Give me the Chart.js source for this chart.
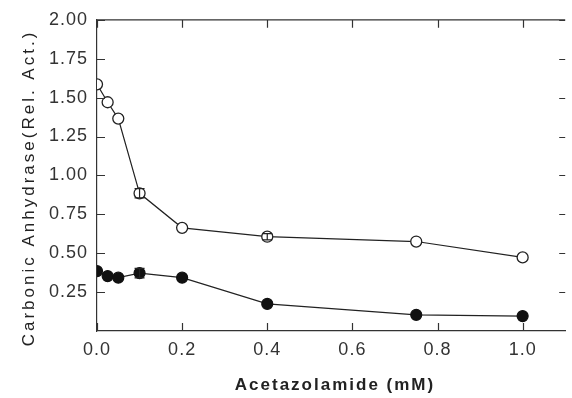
<!DOCTYPE html>
<html>
<head>
<meta charset="utf-8">
<script src="https://cdn.jsdelivr.net/npm/chart.js@4/dist/chart.umd.min.js"></script>
<style>
  body { margin: 0; background: #fff; }
  #wrap { width: 572px; height: 398px; }
</style>
</head>
<body>
<div id="wrap"><canvas id="myChart" width="572" height="398"></canvas></div>
<script>
// dados
var doses = [0, 0.025, 0.05, 0.1, 0.2, 0.4, 0.75, 1.0];
var openVals = [1.585, 1.47, 1.365, 0.885, 0.663, 0.606, 0.575, 0.473];
var openErr = [0, 0, 0, 0.03, 0, 0.02, 0, 0];
var filledVals = [0.385, 0.353, 0.343, 0.372, 0.343, 0.174, 0.104, 0.096];
var filledErr = [0, 0, 0, 0.03, 0, 0, 0, 0];
var xTicks = [0, 0.2, 0.4, 0.6, 0.8, 1.0];
var yTicks = [0.25, 0.5, 0.75, 1.0, 1.25, 1.5, 1.75, 2.0];
var xTitle = 'Acetazolamide (mM)';
var yTitle = 'Carbonic Anhydrase(Rel. Act.)';

function pontos(vals, errs) {
    return doses.map(function (d, i) { return { x: d, y: vals[i], err: errs[i] }; });
}

var fonte = '"Liberation Sans", Arial, sans-serif';

// ticks para dentro, moldura de cima, barras de erro e títulos dos eixos
var moldura = {
    id: 'moldura',
    beforeDraw: function (chart) {
        chart.ctx.letterSpacing = '1px';
    },
    afterDatasetsDraw: function (chart) {
        var ctx = chart.ctx;
        var xs = chart.scales.x, ys = chart.scales.y;
        ctx.save();
        ctx.strokeStyle = '#222';
        ctx.lineWidth = 1.2;
        chart.data.datasets.forEach(function (ds) {
            ds.data.forEach(function (p) {
                if (!p.err) return;
                var px = xs.getPixelForValue(p.x);
                var y1 = ys.getPixelForValue(p.y + p.err);
                var y2 = ys.getPixelForValue(p.y - p.err);
                ctx.beginPath();
                ctx.moveTo(px, y1); ctx.lineTo(px, y2);
                ctx.moveTo(px - 5, y1); ctx.lineTo(px + 5, y1);
                ctx.moveTo(px - 5, y2); ctx.lineTo(px + 5, y2);
                ctx.stroke();
            });
        });
        ctx.restore();
    },
    afterDraw: function (chart) {
        var ctx = chart.ctx;
        var a = chart.chartArea;
        var xs = chart.scales.x, ys = chart.scales.y;
        ctx.save();
        ctx.strokeStyle = '#333';
        ctx.lineWidth = 1.2;
        ctx.beginPath();
        ctx.moveTo(a.left, a.top); ctx.lineTo(a.right, a.top);
        xTicks.forEach(function (v) {
            var px = Math.round(xs.getPixelForValue(v)) + 0.5;
            ctx.moveTo(px, a.bottom); ctx.lineTo(px, a.bottom - 8);
            ctx.moveTo(px, a.top); ctx.lineTo(px, a.top + 8);
        });
        yTicks.forEach(function (v) {
            var py = Math.round(ys.getPixelForValue(v)) + 0.5;
            ctx.moveTo(a.left, py); ctx.lineTo(a.left + 8, py);
            ctx.moveTo(a.right, py); ctx.lineTo(a.right - 6, py);
        });
        ctx.stroke();

        ctx.fillStyle = '#222';
        ctx.textAlign = 'center';
        ctx.textBaseline = 'middle';
        ctx.letterSpacing = '2px';
        ctx.font = 'bold 17px ' + fonte;
        ctx.fillText(xTitle, 335, 385);

        ctx.letterSpacing = '3px';
        ctx.font = '17px ' + fonte;
        ctx.translate(29, 188);
        ctx.rotate(-Math.PI / 2);
        ctx.fillText(yTitle, 0, 0);
        ctx.restore();
    }
};

var ctx = document.getElementById('myChart').getContext('2d');
var myChart = new Chart(ctx, {
    type: 'scatter',
    data: {
        datasets: [{
            label: 'controle',
            data: pontos(openVals, openErr),
            showLine: true,
            borderColor: '#222',
            borderWidth: 1.2,
            pointBackgroundColor: '#fff',
            pointBorderColor: '#222',
            pointBorderWidth: 1.3,
            pointRadius: 5.5
        }, {
            label: 'tratado',
            data: pontos(filledVals, filledErr),
            showLine: true,
            borderColor: '#222',
            borderWidth: 1.2,
            pointBackgroundColor: '#111',
            pointBorderColor: '#111',
            pointRadius: 5.5
        }]
    },
    options: {
        responsive: false,
        animation: false,
        layout: { padding: { top: 15, right: 1, left: 0, bottom: 0 } },
        plugins: {
            legend: { display: false },
            tooltip: { enabled: false }
        },
        scales: {
            x: {
                type: 'linear',
                min: 0,
                max: 1.1,
                afterFit: function (s) { s.height = 67; },
                afterBuildTicks: function (s) {
                    s.ticks = xTicks.map(function (v) { return { value: v }; });
                },
                grid: { display: false, drawTicks: false },
                border: { display: true, color: '#333', width: 1.2 },
                ticks: {
                    color: '#333',
                    padding: 8,
                    font: { family: fonte, size: 18 },
                    callback: function (v) { return v.toFixed(1); }
                }
            },
            y: {
                min: 0,
                max: 2,
                afterFit: function (s) { s.width = 97; },
                afterBuildTicks: function (s) {
                    s.ticks = yTicks.map(function (v) { return { value: v }; });
                },
                grid: { display: false, drawTicks: false },
                border: { display: true, color: '#333', width: 1.2 },
                ticks: {
                    color: '#333',
                    padding: 9,
                    font: { family: fonte, size: 18 },
                    callback: function (v) { return v.toFixed(2); }
                }
            }
        }
    },
    plugins: [moldura]
});
</script>
</body>
</html>
